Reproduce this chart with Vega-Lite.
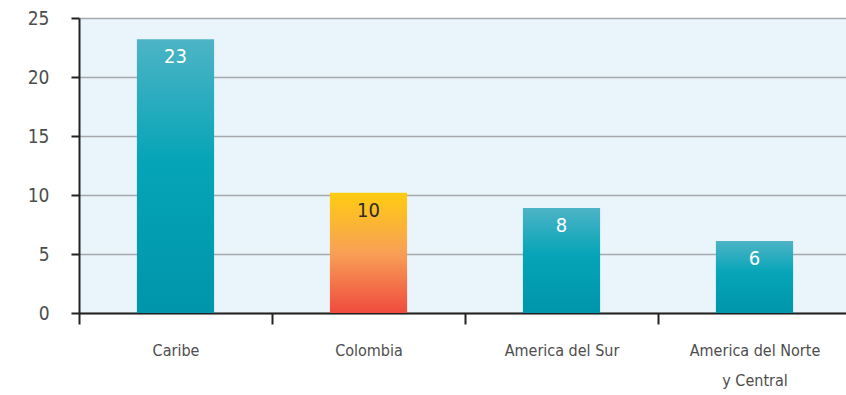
{
  "$schema": "https://vega.github.io/schema/vega-lite/v6.json",
  "autosize": "none",
  "width": 772,
  "height": 295,
  "padding": {"left": 79, "top": 18, "right": 0, "bottom": 82},
  "background": "#ffffff",
  "config": {
    "view": {"fill": "#e9f5fb", "stroke": null},
    "font": "DejaVu Sans Condensed, Roboto, sans-serif"
  },
  "data": {
    "values": [
      {"region": "Caribe", "value": 23.2, "label": "23", "group": "teal"},
      {"region": "Colombia", "value": 10.2, "label": "10", "group": "warm"},
      {"region": "America del Sur", "value": 8.9, "label": "8", "group": "teal"},
      {"region": "America del Norte|y Central", "value": 6.1, "label": "6", "group": "teal"}
    ]
  },
  "encoding": {
    "x": {
      "field": "region",
      "type": "nominal",
      "sort": ["Caribe", "Colombia", "America del Sur", "America del Norte|y Central"],
      "scale": {"paddingInner": 0, "paddingOuter": 0},
      "axis": {
        "title": null,
        "labelAngle": 0,
        "tickBand": "extent",
        "domainColor": "#222222",
        "domainWidth": 2,
        "tickColor": "#222222",
        "tickWidth": 2,
        "tickSize": 11,
        "labelFont": "DejaVu Sans Condensed, Roboto, sans-serif",
        "labelFontSize": 16,
        "labelColor": "#4d4d4d",
        "labelPadding": 18,
        "labelLineHeight": 30,
        "labelExpr": "split(datum.label, '|')",
        "grid": false
      }
    }
  },
  "layer": [
    {
      "transform": [{"filter": "datum.group == 'teal'"}],
      "mark": {
        "type": "bar",
        "width": {"band": 0.4},
        "color": {
          "gradient": "linear",
          "x1": 0, "y1": 0, "x2": 0, "y2": 1,
          "stops": [
            {"offset": 0, "color": "#4db4c6"},
            {"offset": 0.45, "color": "#05a4b7"},
            {"offset": 1, "color": "#0095aa"}
          ]
        }
      },
      "encoding": {
        "y": {
          "field": "value",
          "type": "quantitative",
          "scale": {"domain": [0, 25], "nice": false},
          "axis": {
            "title": null,
            "values": [0, 5, 10, 15, 20, 25],
            "domainColor": "#222222",
            "domainWidth": 2,
            "tickColor": "#222222",
            "tickWidth": 2,
            "tickSize": 8,
            "gridColor": "#a6a8ab",
            "gridWidth": 1.5,
            "labelFont": "DejaVu Sans Condensed, Roboto, sans-serif",
            "labelFontSize": 19,
            "labelColor": "#4d4d4d",
            "labelPadding": 22
          }
        }
      }
    },
    {
      "transform": [{"filter": "datum.group == 'warm'"}],
      "mark": {
        "type": "bar",
        "width": {"band": 0.4},
        "color": {
          "gradient": "linear",
          "x1": 0, "y1": 0, "x2": 0, "y2": 1,
          "stops": [
            {"offset": 0, "color": "#ffcc10"},
            {"offset": 0.5, "color": "#f8a056"},
            {"offset": 1, "color": "#ef4b3e"}
          ]
        }
      },
      "encoding": {
        "y": {"field": "value", "type": "quantitative"}
      }
    },
    {
      "mark": {
        "type": "text",
        "baseline": "top",
        "dy": 8,
        "fontSize": 20,
        "font": "DejaVu Sans Condensed, Roboto, sans-serif"
      },
      "encoding": {
        "y": {"field": "value", "type": "quantitative"},
        "text": {"field": "label"},
        "color": {
          "field": "group",
          "type": "nominal",
          "scale": {"domain": ["teal", "warm"], "range": ["#ffffff", "#2b2b2b"]},
          "legend": null
        }
      }
    }
  ]
}
